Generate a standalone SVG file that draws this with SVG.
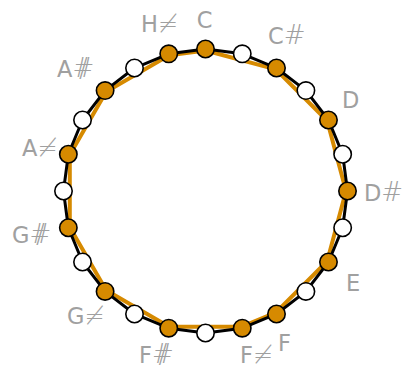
<svg xmlns="http://www.w3.org/2000/svg" width="405" height="367" viewBox="0 0 405 367">
<style>
.lbl{font-family:"DejaVu Sans",sans-serif;font-size:22.5px;fill:#a0a0a0}
.s{font-size:26px;font-weight:200}
.h{font-size:24px;font-weight:200}
.o{fill:#d68a00;stroke:#000;stroke-width:1.6}
.w{fill:#fff;stroke:#000;stroke-width:1.6}
</style>
<rect width="405" height="367" fill="#fff"/>
<g id="connectors" fill="none" stroke-linejoin="round">
<polygon stroke="#d68a00" stroke-width="4" points="205.5,50.5 275.75,69.32 327.18,120.75 346,191 327.18,261.25 275.75,312.68 241.86,326.71 169.14,326.71 106.15,290.35 69.79,227.36 69.79,154.64 106.15,91.65 169.14,55.29"/>
<polygon stroke="#000" stroke-width="3" points="205.5,49 242.25,53.84 276.5,68.02 305.91,90.59 328.48,120 342.66,154.25 347.5,191 342.66,227.75 328.48,262 305.91,291.41 276.5,313.98 242.25,328.16 205.5,333 168.75,328.16 134.5,313.98 105.09,291.41 82.52,262 68.34,227.75 63.5,191 68.34,154.25 82.52,120 105.09,90.59 134.5,68.02 168.75,53.84"/>
</g>
<g id="n0"><circle class="o" cx="205.5" cy="49" r="8.7"/><text class="lbl" x="204.5" y="27.5" text-anchor="middle">C</text></g>
<g id="n15"><circle class="w" cx="242.25" cy="53.84" r="8.7"/></g>
<g id="n30"><circle class="o" cx="276.5" cy="68.02" r="8.7"/><text class="lbl" x="268" y="43.5">C<tspan class="s">#</tspan></text></g>
<g id="n45"><circle class="w" cx="305.91" cy="90.59" r="8.7"/></g>
<g id="n60"><circle class="o" cx="328.48" cy="120" r="8.7"/><text class="lbl" x="342" y="107.5">D</text></g>
<g id="n75"><circle class="w" cx="342.66" cy="154.25" r="8.7"/></g>
<g id="n90"><circle class="o" cx="347.5" cy="191" r="8.7"/><text class="lbl" x="364" y="200.5">D<tspan class="s">#</tspan></text></g>
<g id="n105"><circle class="w" cx="342.66" cy="227.75" r="8.7"/></g>
<g id="n120"><circle class="o" cx="328.48" cy="262" r="8.7"/><text class="lbl" x="346" y="290.5">E</text></g>
<g id="n135"><circle class="w" cx="305.91" cy="291.41" r="8.7"/></g>
<g id="n150"><circle class="o" cx="276.5" cy="313.98" r="8.7"/><text class="lbl" x="278" y="350.5">F</text></g>
<g id="n165"><circle class="o" cx="242.25" cy="328.16" r="8.7"/><text class="lbl" x="240" y="362.5">F<tspan class="h">≠</tspan></text></g>
<g id="n180"><circle class="w" cx="205.5" cy="333" r="8.7"/></g>
<g id="n195"><circle class="o" cx="168.75" cy="328.16" r="8.7"/><text class="lbl" x="139" y="362.5">F<tspan class="s">#</tspan><tspan class="s" dx="-15.3">/</tspan></text></g>
<g id="n210"><circle class="w" cx="134.5" cy="313.98" r="8.7"/></g>
<g id="n225"><circle class="o" cx="105.09" cy="291.41" r="8.7"/><text class="lbl" x="67" y="323.5">G<tspan class="h">≠</tspan></text></g>
<g id="n240"><circle class="w" cx="82.52" cy="262" r="8.7"/></g>
<g id="n255"><circle class="o" cx="68.34" cy="227.75" r="8.7"/><text class="lbl" x="12" y="242.5">G<tspan class="s">#</tspan><tspan class="s" dx="-15.3">/</tspan></text></g>
<g id="n270"><circle class="w" cx="63.5" cy="191" r="8.7"/></g>
<g id="n285"><circle class="o" cx="68.34" cy="154.25" r="8.7"/><text class="lbl" x="22" y="155.5">A<tspan class="h">≠</tspan></text></g>
<g id="n300"><circle class="w" cx="82.52" cy="120" r="8.7"/></g>
<g id="n315"><circle class="o" cx="105.09" cy="90.59" r="8.7"/><text class="lbl" x="57" y="76.5">A<tspan class="s">#</tspan><tspan class="s" dx="-15.3">/</tspan></text></g>
<g id="n330"><circle class="w" cx="134.5" cy="68.02" r="8.7"/></g>
<g id="n345"><circle class="o" cx="168.75" cy="53.84" r="8.7"/><text class="lbl" x="141" y="31.5">H<tspan class="h">≠</tspan></text></g>
</svg>
